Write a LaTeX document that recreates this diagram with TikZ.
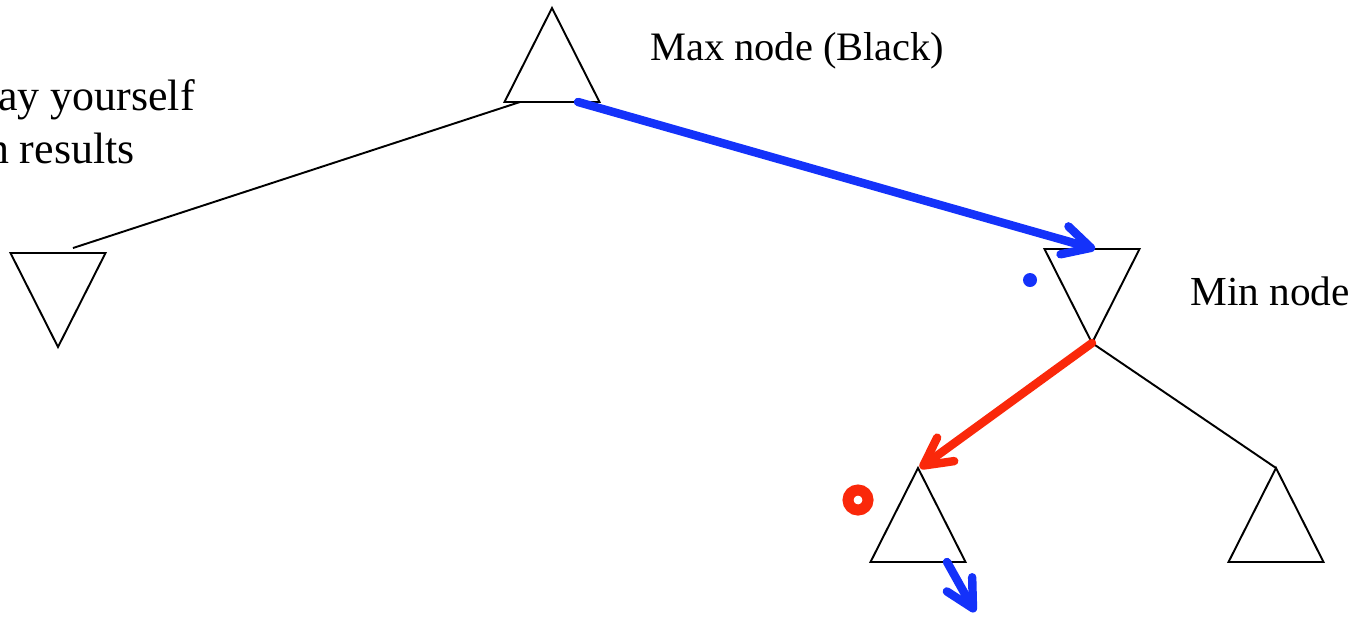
\documentclass[tikz,border=0pt]{standalone}
\usepackage{fontspec}
\setmainfont{Liberation Serif}
\usetikzlibrary{shapes.geometric,arrows.meta,calc}
\definecolor{moveblue}{RGB}{20,50,250}
\definecolor{movered}{RGB}{250,40,10}
\tikzset{
  tri/.style={draw, isosceles triangle, isosceles triangle stretches,
    minimum width=1.9cm, minimum height=1.88cm, inner sep=0pt, outer sep=0pt, line width=1.1pt},
  maxnode/.style={tri, shape border rotate=90, anchor=apex},
  minnode/.style={tri, shape border rotate=270, anchor=apex},
  treeline/.style={line width=1.1pt},
  movearrow/.style={line width=4.8pt, line cap=round, -{Straight Barb[round,length=0.55cm,width=0.58cm]}},
  notetext/.style={font=\fontsize{23}{28}\selectfont, inner sep=0pt, anchor=base west}
}
\begin{document}
\begin{tikzpicture}[x=0.02cm,y=-0.02cm]
\useasboundingbox (0,0) rectangle (1361,623);
% tree nodes
\node[maxnode] (root) at (552,8) {};
\node[minnode] (minleft) at (58,347) {};
\node[minnode] (minright) at (1092,343) {};
\node[maxnode] (maxleft) at (918,468) {};
\node[maxnode] (maxright) at (1276,468) {};
\coordinate (nextmove) at (975,612);

% branches
\draw[treeline] ($(root.south)+(-32,0)$) -- ($(minleft.north)+(15,-5)$);
\draw[treeline] (minright.apex) -- (maxright.apex);

% moves
\draw[movearrow, moveblue] ($(root.south)+(26,0)$) -- ($(minright.north)+(3,0)$);
\draw[movearrow, movered] (minright.apex) -- ($(maxleft.apex)+(2,0)$);
\draw[movearrow, moveblue] ($(maxleft.south)+(29,0)$) -- (nextmove);

% marks
\node[circle, fill=moveblue, minimum size=0.28cm, inner sep=0pt] (bluemark) at (1030,280) {};
\node[circle, draw=movered, line width=0.22cm, minimum size=0.4cm, inner sep=0pt] (redmark) at (858,500) {};

% labels
\node[notetext] (maxlabel) at (650,60) {Max node (Black)};
\node[notetext, font=\fontsize{23.5}{28}\selectfont] (minlabel) at (1190,305) {Min node};
\node[notetext, anchor=base east, font=\fontsize{25}{30}\selectfont] (playline) at (195,110) {ay yourself};
\node[notetext, anchor=base east, font=\fontsize{25}{30}\selectfont] (resultline) at (135,163) {n results};
\end{tikzpicture}
\end{document}
